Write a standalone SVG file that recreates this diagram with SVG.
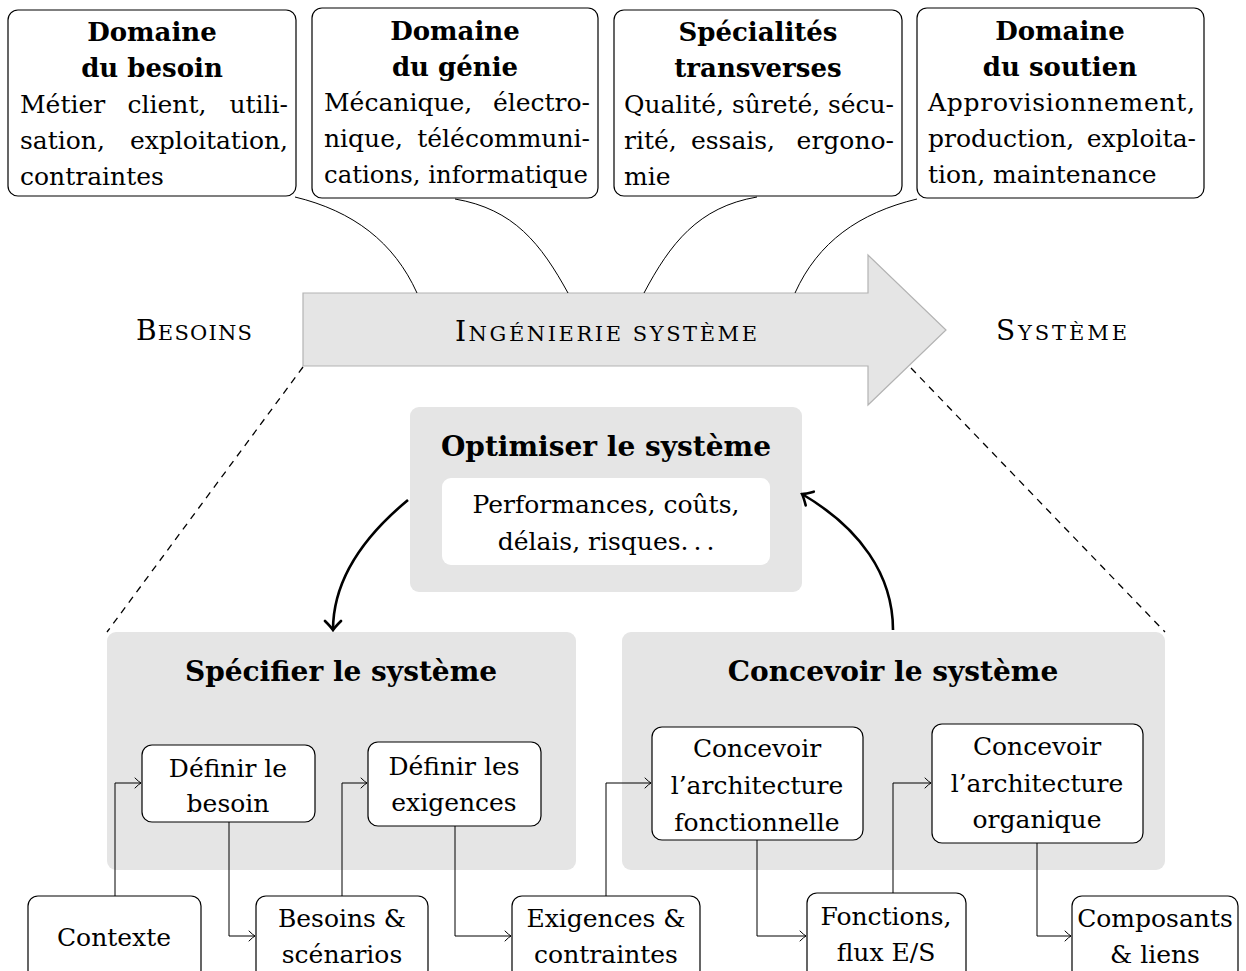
<svg xmlns="http://www.w3.org/2000/svg" width="1246" height="971" viewBox="0 0 1246 971">
<defs>
<style>
text{font-family:"DejaVu Serif","Liberation Serif",serif;fill:#000;}
.t{font-size:25px;}
.e{font-size:25px;text-anchor:end;}
.mw{font-size:25px;text-anchor:middle;}
.b{font-size:26px;font-weight:bold;text-anchor:middle;}
.pt{font-size:28px;font-weight:bold;text-anchor:middle;}
.m{font-size:25px;text-anchor:middle;}
.cap{font-size:28px;}
.sm{font-size:21px;}
.box{fill:#fff;stroke:#000;stroke-width:1.2;}
.panel{fill:#e5e5e5;stroke:none;}
.c{fill:none;stroke:#000;stroke-width:1;}
.d{fill:none;stroke:#000;stroke-width:1.3;stroke-dasharray:7,6;}
.thick{fill:none;stroke:#000;stroke-width:2.6;}
</style>
<marker id="to" viewBox="-10 -6 12 12" refX="0" refY="0" markerWidth="12" markerHeight="12" markerUnits="userSpaceOnUse" orient="auto">
<path d="M -6 -5 Q -2 -1 0 0 Q -2 1 -6 5" fill="none" stroke="#000" stroke-width="1" stroke-linecap="round"/>
</marker>
<marker id="thk" viewBox="-14 -10 16 20" refX="0" refY="0" markerWidth="16" markerHeight="20" markerUnits="userSpaceOnUse" orient="auto">
<path d="M -9 -8 Q -3 -2 0 0 Q -3 2 -9 8" fill="none" stroke="#000" stroke-width="2.6" stroke-linecap="round"/>
</marker>
</defs>

<!-- top domain boxes -->
<g id="besoin">
<rect class="box" x="8" y="10" width="288" height="186" rx="10"/>
<text class="b" x="152" y="41">Domaine</text>
<text class="b" x="152" y="77">du besoin</text>
<text class="t" x="20" y="113">Métier</text><text class="mw" x="167" y="113">client,</text><text class="e" x="288" y="113">utili-</text>
<text class="t" x="20" y="149">sation,</text><text class="e" x="288" y="149">exploitation,</text>
<text class="t" x="20" y="185">contraintes</text>
</g>
<g id="genie">
<rect class="box" x="312" y="8" width="286" height="190" rx="10"/>
<text class="b" x="455" y="40">Domaine</text>
<text class="b" x="455" y="76">du génie</text>
<text class="t" x="324" y="111">Mécanique,</text><text class="e" x="590" y="111">électro-</text>
<text class="t" x="324" y="147">nique,</text><text class="e" x="590" y="147">télécommuni-</text>
<text class="t" x="324" y="183" textLength="264" lengthAdjust="spacingAndGlyphs">cations, informatique</text>
</g>
<g id="transverses">
<rect class="box" x="614" y="10" width="288" height="186" rx="10"/>
<text class="b" x="758" y="41">Spécialités</text>
<text class="b" x="758" y="77">transverses</text>
<text class="t" x="624" y="113" textLength="270" lengthAdjust="spacingAndGlyphs">Qualité, sûreté, sécu-</text>
<text class="t" x="624" y="149">rité,</text><text class="mw" x="733" y="149">essais,</text><text class="e" x="894" y="149">ergono-</text>
<text class="t" x="624" y="185">mie</text>
</g>
<g id="soutien">
<rect class="box" x="917" y="8" width="287" height="190" rx="10"/>
<text class="b" x="1060" y="40">Domaine</text>
<text class="b" x="1060" y="76">du soutien</text>
<text class="t" x="928" y="111" textLength="267" lengthAdjust="spacing">Approvisionnement,</text>
<text class="t" x="928" y="147">production,</text><text class="e" x="1196" y="147">exploita-</text>
<text class="t" x="928" y="183">tion, maintenance</text>
</g>

<!-- big arrow -->
<g id="ingenierie">
<path d="M 303 293 L 868 293 L 868 255 L 946 330 L 868 405 L 868 366 L 303 366 Z" fill="#e5e5e5" stroke="#b3b3b3" stroke-width="1.2"/>
<text x="455" y="341" textLength="302" lengthAdjust="spacing"><tspan class="cap">I</tspan><tspan class="sm">NGÉNIERIE SYSTÈME</tspan></text>
</g>
<g id="besoins-label"><text x="136" y="340" textLength="116" lengthAdjust="spacing"><tspan class="cap">B</tspan><tspan class="sm">ESOINS</tspan></text></g>
<g id="systeme-label"><text x="996" y="340" textLength="131" lengthAdjust="spacing"><tspan class="cap">S</tspan><tspan class="sm">YSTÈME</tspan></text></g>

<!-- panels -->
<g id="optimiser">
<rect class="panel" x="410" y="407" width="392" height="185" rx="9"/>
<text class="pt" x="606" y="456">Optimiser le système</text>
<rect x="442" y="478" width="328" height="87" rx="9" fill="#fff"/>
<text class="m" x="606" y="513">Performances, coûts,</text>
<text class="m" x="606" y="550">délais, risques.&#8201;.&#8201;.</text>
</g>
<g id="specifier">
<rect class="panel" x="107" y="632" width="469" height="238" rx="9"/>
<text class="pt" x="341" y="681">Spécifier le système</text>
</g>
<g id="concevoir">
<rect class="panel" x="622" y="632" width="543" height="238" rx="9"/>
<text class="pt" x="893" y="681">Concevoir le système</text>
</g>

<!-- process boxes -->
<g id="definir-besoin">
<rect class="box" x="142" y="745" width="173" height="77" rx="10"/>
<text class="m" x="228" y="777">Définir le</text>
<text class="m" x="228" y="812">besoin</text>
</g>
<g id="definir-exigences">
<rect class="box" x="368" y="742" width="173" height="84" rx="10"/>
<text class="m" x="454" y="775">Définir les</text>
<text class="m" x="454" y="811">exigences</text>
</g>
<g id="archi-fonct">
<rect class="box" x="652" y="727" width="211" height="113" rx="10"/>
<text class="m" x="757" y="757">Concevoir</text>
<text class="m" x="757" y="794">l’architecture</text>
<text class="m" x="757" y="831">fonctionnelle</text>
</g>
<g id="archi-org">
<rect class="box" x="932" y="724" width="211" height="119" rx="10"/>
<text class="m" x="1037" y="755">Concevoir</text>
<text class="m" x="1037" y="792">l’architecture</text>
<text class="m" x="1037" y="828">organique</text>
</g>
<g id="contexte">
<rect class="box" x="28" y="896" width="173" height="84" rx="10"/>
<text class="m" x="114" y="946">Contexte</text>
</g>
<g id="besoins-scenarios">
<rect class="box" x="256" y="896" width="172" height="84" rx="10"/>
<text class="m" x="342" y="927">Besoins &amp;</text>
<text class="m" x="342" y="963">scénarios</text>
</g>
<g id="exigences-contraintes">
<rect class="box" x="512" y="896" width="188" height="84" rx="10"/>
<text class="m" x="606" y="927">Exigences &amp;</text>
<text class="m" x="606" y="963">contraintes</text>
</g>
<g id="fonctions">
<rect class="box" x="807" y="893" width="159" height="88" rx="10"/>
<text class="m" x="886" y="925">Fonctions,</text>
<text class="m" x="886" y="961">flux E/S</text>
</g>
<g id="composants">
<rect class="box" x="1072" y="896" width="166" height="84" rx="10"/>
<text class="m" x="1155" y="927">Composants</text>
<text class="m" x="1155" y="963">&amp; liens</text>
</g>

<!-- connectors -->
<g id="connectors">
<path class="c" d="M 295 197 C 353 211, 394 242, 417 293"/>
<path class="c" d="M 455 199 C 514 209, 541 244, 568 293"/>
<path class="c" d="M 757 197 C 698 207, 670 244, 644 293"/>
<path class="c" d="M 917 199 C 859 213, 818 242, 795 293"/>
<path class="d" d="M 303 367 L 107 632"/>
<path class="d" d="M 911 368 L 1165 632"/>
<path class="thick" d="M 408 500 C 362 538, 333 580, 333 630" marker-end="url(#thk)"/>
<path class="thick" d="M 893 630 C 893 575, 860 528, 802 494" marker-end="url(#thk)"/>
<path class="c" d="M 115 896 L 115 783 L 141 783" marker-end="url(#to)"/>
<path class="c" d="M 229 822 L 229 936 L 255 936" marker-end="url(#to)"/>
<path class="c" d="M 342 896 L 342 783 L 367 783" marker-end="url(#to)"/>
<path class="c" d="M 455 826 L 455 936 L 511 936" marker-end="url(#to)"/>
<path class="c" d="M 606 896 L 606 783 L 651 783" marker-end="url(#to)"/>
<path class="c" d="M 757 840 L 757 936 L 806 936" marker-end="url(#to)"/>
<path class="c" d="M 893 893 L 893 783 L 931 783" marker-end="url(#to)"/>
<path class="c" d="M 1037 843 L 1037 936 L 1071 936" marker-end="url(#to)"/>
</g>
</svg>
